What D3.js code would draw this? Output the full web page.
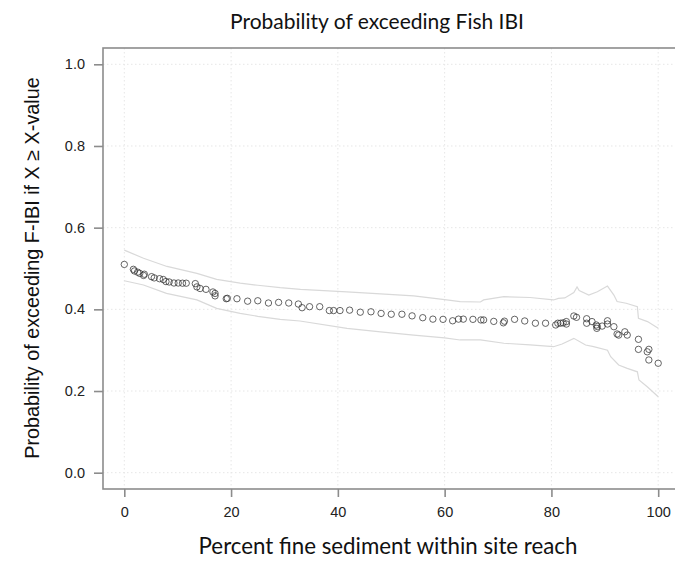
<!DOCTYPE html>
<html><head><meta charset="utf-8">
<script src="https://cdn.jsdelivr.net/npm/d3@7"></script>
<style>body{margin:0;background:#fff}svg{display:block}</style>
</head><body><svg id="c" width="675" height="566"></svg>
<script>
const title = "Probability of exceeding Fish IBI";
const xTitle = "Percent fine sediment within site reach";
const yTitle = "Probability of exceeding F-IBI if X \u2265 X-value";
const xTicks = [0, 20, 40, 60, 80, 100];
const yTicks = [0, 0.2, 0.4, 0.6, 0.8, 1.0];

const ptX = [0,1.7,1.9,2.5,2.9,3.75,3.6,5.1,5.6,6.6,7.3,7.8,8.4,9.3,10.1,10.9,11.6,13.3,13.6,14.2,15.3,16.6,17.0,17.0,19.1,19.3,21.1,23.1,25.0,27.0,28.9,30.8,32.6,33.3,34.7,36.6,38.4,39.2,40.4,42.2,44.2,46.2,48.1,50.0,52.0,53.9,55.9,57.8,59.7,61.5,62.6,63.5,65.3,66.8,67.3,69.2,71.0,71.2,73.1,75.0,77.0,78.9,80.8,81.2,81.7,82.2,82.8,82.8,84.2,84.7,86.6,86.6,87.6,88.4,88.5,88.6,89.5,90.5,90.5,91.7,92.3,92.6,93.75,94.2,96.3,96.3,97.95,98.25,98.25,100];
const ptY = [0.510,0.498,0.494,0.491,0.488,0.486,0.483,0.480,0.477,0.475,0.473,0.468,0.467,0.4645,0.4645,0.464,0.464,0.463,0.455,0.451,0.449,0.4425,0.439,0.433,0.426,0.427,0.426,0.420,0.421,0.4155,0.417,0.4155,0.413,0.404,0.4065,0.4065,0.397,0.397,0.397,0.398,0.393,0.394,0.390,0.388,0.388,0.384,0.3795,0.376,0.3755,0.372,0.376,0.376,0.3755,0.374,0.374,0.3705,0.367,0.371,0.3755,0.3715,0.366,0.366,0.3617,0.366,0.366,0.367,0.370,0.364,0.3837,0.3805,0.377,0.366,0.370,0.3617,0.3535,0.358,0.359,0.372,0.364,0.3575,0.3396,0.337,0.345,0.337,0.3266,0.302,0.296,0.302,0.276,0.268];

const upX = [0,3.6,8,13.6,17.3,21.7,25,29.2,33,41.7,48,54.2,60,62.9,66.7,67.3,71.1,76,80.4,81.3,82.5,84.2,84.8,85.2,87,88.6,90.5,91.7,92.3,94,96.1,96.3,98,100];
const upY = [0.545,0.525,0.505,0.488,0.4735,0.464,0.459,0.453,0.449,0.443,0.438,0.433,0.424,0.419,0.418,0.423,0.431,0.429,0.423,0.427,0.428,0.441,0.455,0.446,0.435,0.443,0.457,0.435,0.419,0.415,0.4065,0.378,0.370,0.3535];
const loX = [0,3.6,7.9,13.6,17.3,21.7,25,29.2,32.9,41.7,48,54.2,60,62.9,66.7,71.1,76,80.4,82,84.2,86.4,87.9,90.5,91.1,92.6,94.2,96.1,96.4,98,100];
const loY = [0.470,0.4596,0.439,0.423,0.4025,0.390,0.383,0.3755,0.3715,0.3535,0.345,0.337,0.330,0.325,0.325,0.317,0.313,0.3085,0.315,0.329,0.3127,0.3085,0.300,0.284,0.2637,0.2556,0.247,0.227,0.210,0.186];

const svg = d3.select("#c");
const L = 103, T = 48, B = 489, R = 700;
const x = d3.scaleLinear().domain([0, 100]).range([124.3, 658.2]);
const y = d3.scaleLinear().domain([0, 1]).range([472.7, 64.3]);

// grid
const g = svg.append("g");
g.selectAll(".gx").data(xTicks).enter().append("line")
  .attr("x1", d => x(d)).attr("x2", d => x(d)).attr("y1", T).attr("y2", B)
  .attr("stroke", "#e6e6e6").attr("stroke-dasharray", "1.5,2.5").attr("stroke-width", 1);
g.selectAll(".gy").data(yTicks).enter().append("line")
  .attr("y1", d => y(d)).attr("y2", d => y(d)).attr("x1", L).attr("x2", R)
  .attr("stroke", "#e6e6e6").attr("stroke-dasharray", "1.5,2.5").attr("stroke-width", 1);

// band
const line = d3.line().x(d => x(d[0])).y(d => y(d[1]));
svg.append("path").datum(d3.zip(upX, upY)).attr("d", line)
  .attr("fill", "none").attr("stroke", "#d9d9d9").attr("stroke-width", 1.2);
svg.append("path").datum(d3.zip(loX, loY)).attr("d", line)
  .attr("fill", "none").attr("stroke", "#d9d9d9").attr("stroke-width", 1.2);

// points
svg.append("g").selectAll("circle").data(d3.zip(ptX, ptY)).enter().append("circle")
  .attr("cx", d => x(d[0])).attr("cy", d => y(d[1])).attr("r", 3.2)
  .attr("fill", "none").attr("stroke", "#333").attr("stroke-opacity", 0.75).attr("stroke-width", 1);

// frame
svg.append("rect").attr("x", L).attr("y", T).attr("width", R - L).attr("height", B - T)
  .attr("fill", "none").attr("stroke", "#8c8c8c").attr("stroke-width", 1.6);

// axes
const xAxis = d3.axisBottom(x).tickValues(xTicks).tickSize(8).tickPadding(10).tickFormat(d3.format("d"));
const gx = svg.append("g").attr("transform", `translate(0,${B})`).call(xAxis);
gx.select(".domain").remove();
gx.selectAll("line").attr("stroke", "#8c8c8c").attr("stroke-width", 1.6);
gx.selectAll("text").attr("font-family", "'Liberation Sans', Arial, sans-serif").attr("font-size", 14.5).attr("fill", "#222");

const yAxis = d3.axisLeft(y).tickValues(yTicks).tickSize(9).tickPadding(9).tickFormat(d3.format(".1f"));
const gy = svg.append("g").attr("transform", `translate(${L},0)`).call(yAxis);
gy.select(".domain").remove();
gy.selectAll("line").attr("stroke", "#8c8c8c").attr("stroke-width", 1.6);
gy.selectAll("text").attr("font-family", "'Liberation Sans', Arial, sans-serif").attr("font-size", 14.5).attr("fill", "#222");

// titles
svg.append("text").attr("x", 377).attr("y", 29).attr("text-anchor", "middle")
  .attr("font-family", "Lato, 'Open Sans', sans-serif").attr("font-size", 21).attr("fill", "#111").text(title);
svg.append("text").attr("x", 388).attr("y", 554).attr("text-anchor", "middle")
  .attr("font-family", "Lato, 'Open Sans', sans-serif").attr("font-size", 22.3).attr("fill", "#111").text(xTitle);
svg.append("text").attr("transform", "translate(39,268) rotate(-90)").attr("text-anchor", "middle")
  .attr("font-family", "'Liberation Sans', Arial, sans-serif").attr("font-size", 19.8).attr("fill", "#111").text(yTitle);
</script></body></html>
